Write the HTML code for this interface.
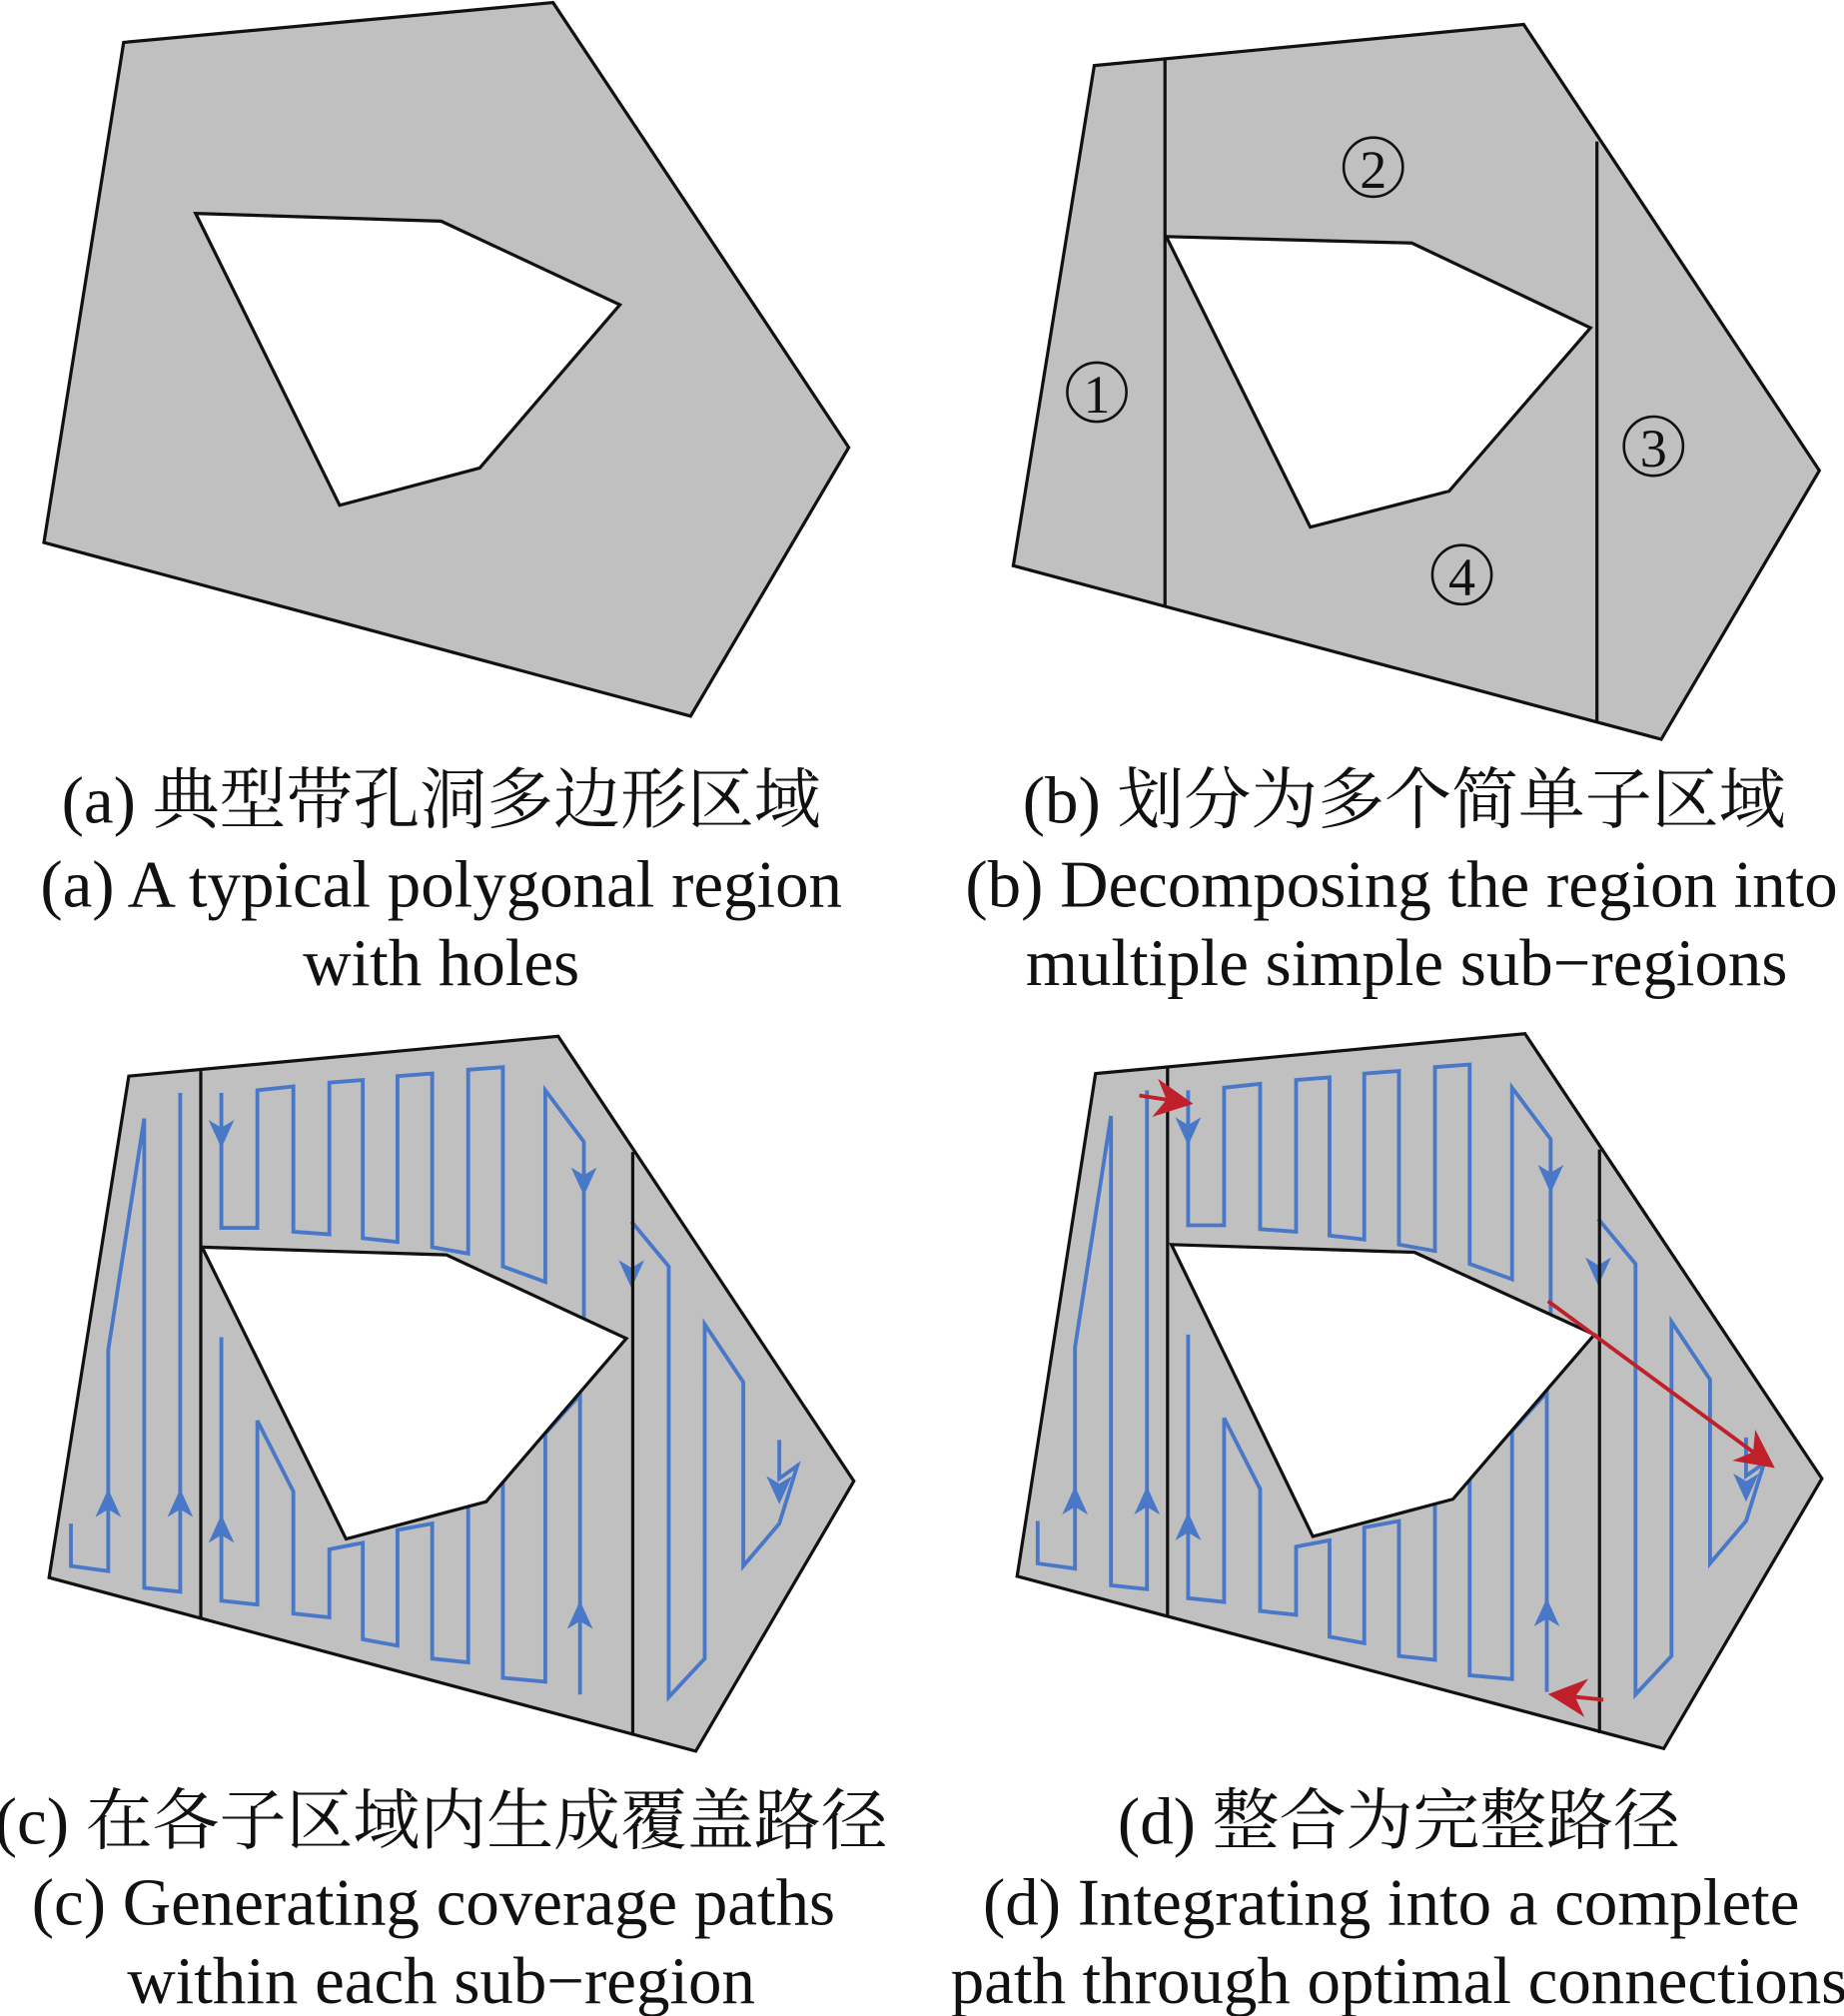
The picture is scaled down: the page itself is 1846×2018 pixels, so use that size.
<!DOCTYPE html>
<html><head><meta charset="utf-8"><style>
html,body{margin:0;padding:0;background:#fff}
svg{display:block}
text{font-family:"Liberation Serif","Noto Serif CJK SC",serif;font-size:52px;fill:#111;text-anchor:middle}
</style></head><body>
<svg width="1846" height="2018" viewBox="0 0 1434 1568" xmlns="http://www.w3.org/2000/svg">
<defs>
<marker id="ar" viewBox="0 0 10 10" refX="9" refY="5" markerWidth="30" markerHeight="30" orient="auto" markerUnits="userSpaceOnUse"><path d="M0,0 L10,5 L0,10 L3,5 z" fill="#c0202a"/></marker>
<g id="bluepaths" fill="none" stroke="#4a78c8" stroke-width="3" stroke-linejoin="miter">
<polyline points="55,1185 55,1218 84,1222 84,1050 112,870 112,1235 140,1238 140,850"/>
<polyline points="172,850 172,955 200,955 200,848 228,845 228,958 256,960 256,842 282,840 282,963 309,966 309,837 336,835 336,970 364,975 364,832 391,830 391,985 424,997 424,848 454,888 454,1030"/>
<polyline points="172,1040 172,1245 200,1248 200,1105 228,1160 228,1255 256,1258 256,1205 282,1200 282,1275 309,1280 309,1190 336,1185 336,1290 364,1293 364,1170 391,1150 391,1305 424,1308 424,1115 451,1085 451,1318"/>
<polyline points="491,950 520,985 520,1320 548,1290 548,1030 578,1075 578,1218 606,1185 620,1140 606,1150 606,1120"/>
</g>
<g id="barrows" fill="#4a78c8">
<path d="M84,1158 l-10,22 l10,-6 l10,6 z"/>
<path d="M140,1158 l-10,22 l10,-6 l10,6 z"/>
<path d="M172,1178 l-10,22 l10,-6 l10,6 z"/>
<path d="M451,1245 l-10,22 l10,-6 l10,6 z"/>
<path d="M172,893 l-10,-22 l10,6 l10,-6 z"/>
<path d="M454,930 l-10,-22 l10,6 l10,-6 z"/>
<path d="M491,1002 l-10,-22 l10,6 l10,-6 z"/>
<path d="M606,1170 l-10,-22 l10,6 l10,-6 z"/>
</g>
</defs>

<polygon points="96,33 430,2 660,348 537,557 34,422" fill="#c0c0c0" stroke="#111" stroke-width="2.5"/>
<polygon points="152,166 343,172 482,237 373,364 264,393" fill="#fff" stroke="#111" stroke-width="2.5"/>

<polygon points="851,51 1185,19 1415,366 1292,575 788,440" fill="#c0c0c0" stroke="#111" stroke-width="2.5"/>
<polygon points="907,184 1098,189 1237,255 1127,382 1019,410" fill="#fff" stroke="#111" stroke-width="2.5"/>
<line x1="906" y1="47" x2="906" y2="472" stroke="#111" stroke-width="2.5"/>
<line x1="1242" y1="110" x2="1242" y2="562" stroke="#111" stroke-width="2.5"/>
<g fill="none" stroke="#111" stroke-width="2">
<circle cx="853" cy="305" r="23"/><circle cx="1068" cy="130" r="23"/><circle cx="1286" cy="347" r="23"/><circle cx="1137" cy="447" r="23"/>
</g>
<text x="853" y="321" style="font-size:42px">1</text>
<text x="1068" y="146" style="font-size:42px">2</text>
<text x="1286" y="363" style="font-size:42px">3</text>
<text x="1137" y="463" style="font-size:42px">4</text>

<polygon points="100,837 434,806 664,1152 541,1362 38,1227" fill="#c0c0c0" stroke="#111" stroke-width="2.5"/>
<use href="#bluepaths"/>
<use href="#barrows"/>
<polygon points="157,970 347,976 487,1041 378,1168 269,1197" fill="#fff" stroke="#111" stroke-width="2.5"/>
<line x1="156" y1="833" x2="156" y2="1258" stroke="#111" stroke-width="2.5"/>
<line x1="492" y1="896" x2="492" y2="1350" stroke="#111" stroke-width="2.5"/>

<polygon points="852,835 1186,804 1417,1150 1294,1360 791,1226" fill="#c0c0c0" stroke="#111" stroke-width="2.5"/>
<g transform="translate(752,-2)"><use href="#bluepaths"/><use href="#barrows"/></g>
<polygon points="911,968 1100,974 1240,1038 1130,1166 1021,1195" fill="#fff" stroke="#111" stroke-width="2.5"/>
<line x1="908" y1="831" x2="908" y2="1256" stroke="#111" stroke-width="2.5"/>
<line x1="1244" y1="894" x2="1244" y2="1348" stroke="#111" stroke-width="2.5"/>
<g stroke="#c0202a" stroke-width="3" fill="none">
<line x1="886" y1="852" x2="925" y2="858" marker-end="url(#ar)"/>
<line x1="1204" y1="1012" x2="1378" y2="1140" marker-end="url(#ar)"/>
<line x1="1247" y1="1322" x2="1207" y2="1318" marker-end="url(#ar)"/>
</g>

<text x="343" y="640">(a) 典型带孔洞多边形区域</text>
<text x="343" y="705">(a) A typical polygonal region</text>
<text x="343" y="766">with holes</text>
<text x="1092" y="640">(b) 划分为多个简单子区域</text>
<text x="1090" y="705">(b) Decomposing the region into</text>
<text x="1094" y="766">multiple simple sub−regions</text>
<text x="343" y="1434">(c) 在各子区域内生成覆盖路径</text>
<text x="337" y="1497">(c) Generating coverage paths</text>
<text x="343" y="1558">within each sub−region</text>
<text x="1088" y="1434">(d) 整合为完整路径</text>
<text x="1082" y="1497">(d) Integrating into a complete</text>
<text x="1088" y="1558">path through optimal connections</text>
</svg>
</body></html>
